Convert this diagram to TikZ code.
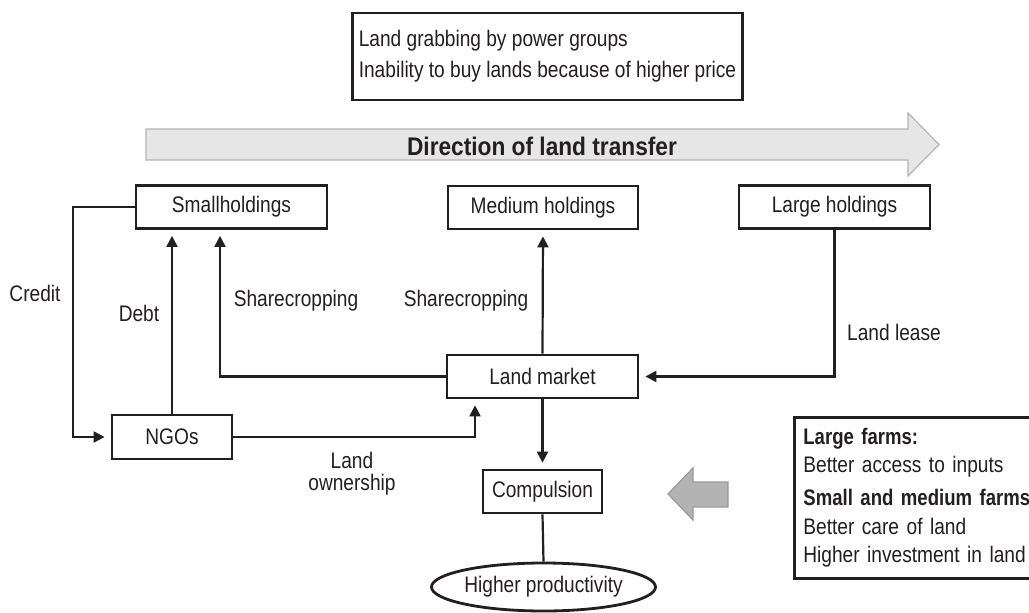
\documentclass[tikz,border=0pt]{standalone}
\usepackage{fontspec}
\setmainfont{Liberation Sans}[FakeStretch=0.85]
\newfontfamily\dirfont{Liberation Sans}[FakeStretch=0.89]
\newfontfamily\farmfont{Liberation Sans}[FakeStretch=0.825]
\usetikzlibrary{arrows.meta,shapes.geometric}
\definecolor{ink}{HTML}{231F20}
\definecolor{pale}{HTML}{E6E6E6}
\definecolor{paleedge}{HTML}{B4B4B4}
\definecolor{midgray}{HTML}{B3B3B3}
\definecolor{midedge}{HTML}{999999}
\tikzset{
  txt/.style={font=\fontsize{22.5}{28}\selectfont, text=ink, inner sep=0pt},
  holdbox/.style={txt, draw=ink, line width=2.8pt, minimum height=43pt, inner sep=0pt},
  conn/.style={draw=ink, line width=2.2pt},
  arr/.style={conn, -{Triangle[length=11pt,width=11pt]}, shorten >=6pt},
}
\begin{document}
\begin{tikzpicture}[x=1pt,y=-1pt]
\clip (0,0) rectangle (1029,613);
\fill[white] (0,0) rectangle (1029,613);

% top box
\node[txt, draw=ink, line width=2.8pt, minimum width=389pt, minimum height=87pt,
      inner xsep=6pt, align=left, font=\fontsize{22.5}{31}\selectfont]
  (causes) at (547.5,56.5) {Land grabbing by power groups\\Inability to buy lands because of higher price};

% direction arrow
\path[fill=pale, draw=paleedge, line width=1.2pt]
  (146,129) -- (908,129) -- (908,113) -- (939,144.5) -- (908,176) -- (908,160) -- (146,160) -- cycle;
\node[inner sep=0pt, text=ink, font=\dirfont\fontsize{25.5}{30}\selectfont\bfseries] (dir) at (542,146) {Direction of land transfer};

% holdings
\node[holdbox, minimum width=191pt] (small) at (231.5,207) {Smallholdings};
\node[holdbox, minimum width=190pt] (med) at (543,207.5) {Medium holdings};
\node[holdbox, minimum width=191pt] (large) at (834.5,207) {Large holdings};

\node[holdbox, minimum width=191pt] (lm) at (542.5,376.5) {Land market};
\node[holdbox, minimum width=120pt, minimum height=44pt] (ngos) at (172,437) {NGOs};
\node[holdbox, minimum width=119pt] (comp) at (542.5,491.5) {Compulsion};
\node[txt, draw=ink, line width=2.8pt, ellipse, minimum width=189pt, minimum height=48pt] (hp) at (543.5,587) {Higher productivity};

% connectors
\draw[arr] (small.west) -- ++(-62,0) |- (ngos.west);
\draw[arr] (ngos.north) -- (ngos.north |- small.south);
\draw[arr] (lm.west) -| ([xshift=-11.5pt]small.south);
\draw[arr] (lm.north) -- (med.south);
\draw[arr] (large.south) |- (lm.east);
\draw[arr] (ngos.east) -| ([xshift=-67.5pt]lm.south);
\draw[arr] (lm.south) -- (comp.north);
\draw[conn] (comp.south) -- (hp.north);

% labels
\node[txt] (lcredit) at (35,293) {Credit};
\node[txt] (ldebt) at (139,313) {Debt};
\node[txt] (lsc1) at (296,301) {Sharecropping};
\node[txt] (lsc2) at (466,301) {Sharecropping};
\node[txt, anchor=west] (llease) at (847,332) {Land lease};
\node[txt, align=center, font=\fontsize{22.5}{22}\selectfont] (lown) at (352,474) {Land\\ownership};

% gray block arrow
\path[fill=midgray, draw=midedge, line width=1.2pt]
  (668,494) -- (693,468) -- (693,482) -- (728,482) -- (728,507) -- (693,507) -- (693,520) -- cycle;

% right box
\node[txt, draw=ink, line width=2.8pt, anchor=north west, minimum height=161pt,
      text width=262pt, align=left, inner xsep=9pt, font=\fontsize{22.5}{28.5}\selectfont]
  (farms) at (793,416) {{\farmfont\bfseries Large farms:}\\Better access to inputs\\[4.5pt]{\farmfont\bfseries Small and medium farms}\\Better care of land\\Higher investment in land};
\end{tikzpicture}
\end{document}
